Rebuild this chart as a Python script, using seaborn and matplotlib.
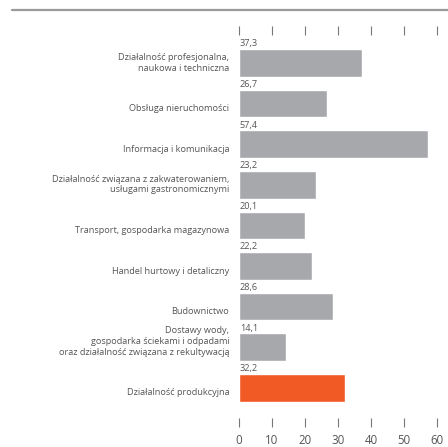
import matplotlib
matplotlib.use("Agg")
import matplotlib.pyplot as plt
import seaborn as sns
import pandas as pd
from matplotlib.lines import Line2D

categories = [
    "Działalność profesjonalna,\nnaukowa i techniczna",
    "Obsługa nieruchomości",
    "Informacja i komunikacja",
    "Działalność związana z zakwaterowaniem,\nusługami gastronomicznymi",
    "Transport, gospodarka magazynowa",
    "Handel hurtowy i detaliczny",
    "Budownictwo",
    "Dostawy wody,\ngospodarka ściekami i odpadami\noraz działalność związana z rekultywacją",
    "Działalność produkcyjna",
]
values = [37.3, 26.7, 57.4, 23.2, 20.1, 22.2, 28.6, 14.1, 32.2]
highlight = [False, False, False, False, False, False, False, False, True]
x_ticks = [0, 10, 20, 30, 40, 50, 60]

GRAY = "#a7a8ac"
ORANGE = "#f15a24"
TEXT = "#555555"

sns.set_theme(style="white")
plt.rcParams["font.family"] = ["Open Sans", "DejaVu Sans"]

df = pd.DataFrame({
    "category": categories,
    "value": values,
    "group": ["hl" if h else "base" for h in highlight],
})

W, H = 448, 447
fig = plt.figure(figsize=(W / 100, H / 100), dpi=100)
ax = fig.add_axes([239 / W, 1 - 427 / H, 198 / W, (427 - 26) / H])

sns.barplot(data=df, y="category", x="value", hue="group",
            palette={"base": GRAY, "hl": ORANGE}, orient="h",
            width=0.68, legend=False, ax=ax, saturation=1)

ax.set_xlim(0, 60)
ax.set_ylim(8.966, -0.911)
ax.set_xlabel("")
ax.set_ylabel("")
ax.set_yticks([])
for s in ax.spines.values():
    s.set_visible(False)

ax.set_xticks(x_ticks)
ax.set_xticklabels([str(t) for t in x_ticks], fontsize=8.3, color=TEXT)
ax.tick_params(axis="x", which="both", top=True, bottom=True, direction="in",
               length=6.5, width=0.8, color="#777777", pad=5)

# value labels above each bar and category names to the left
for i, (cat, v) in enumerate(zip(categories, values)):
    ax.annotate(f"{v:.1f}".replace(".", ","), xy=(0, i - 0.34), xytext=(0.5, 0.5),
                textcoords="offset points", ha="left", va="bottom",
                fontsize=6.6, color=TEXT)
    ax.annotate(cat, xy=(0, i + 0.34), xycoords=("axes fraction", "data"),
                xytext=(-7, 3), textcoords="offset points", ha="right",
                va="bottom", fontsize=6.6, color=TEXT, linespacing=1.25)

# header rule
fig.add_artist(Line2D([12 / W, 1], [1 - 10 / H, 1 - 10 / H],
                      transform=fig.transFigure, color="#9a9a9a", lw=1.6))

fig.savefig("out.png", dpi=100)
